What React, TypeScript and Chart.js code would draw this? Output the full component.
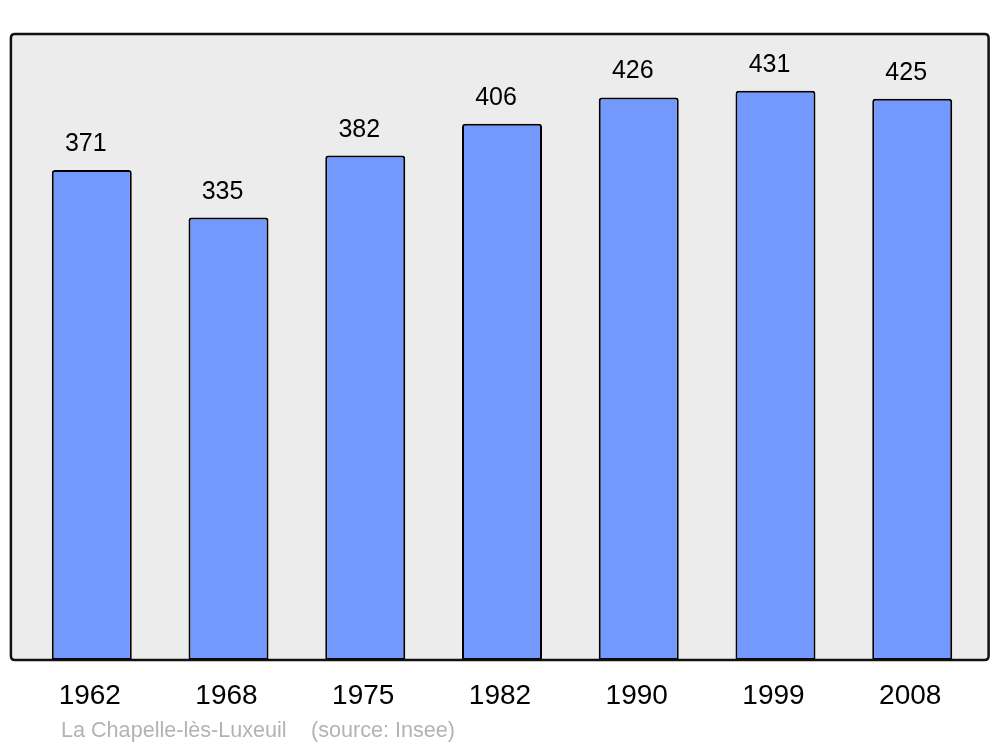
import React, { useEffect, useRef } from "react";
import { Chart, registerables } from "chart.js";

Chart.register(...registerables);

const years = ["1962", "1968", "1975", "1982", "1990", "1999", "2008"];
const population = [371, 335, 382, 406, 426, 431, 425];
const placeName = "La Chapelle-lès-Luxeuil";
const sourceText = "(source: Insee)";
const yMax = 474;

const FONT = "'Liberation Sans', Arial, sans-serif";

export default function App() {
  const ref = useRef<HTMLCanvasElement | null>(null);

  useEffect(() => {
    if (!ref.current) return;

    const roundRect = (ctx: CanvasRenderingContext2D, x: number, y: number, w: number, h: number, r: number) => {
      ctx.beginPath();
      ctx.moveTo(x + r, y);
      ctx.lineTo(x + w - r, y);
      ctx.quadraticCurveTo(x + w, y, x + w, y + r);
      ctx.lineTo(x + w, y + h - r);
      ctx.quadraticCurveTo(x + w, y + h, x + w - r, y + h);
      ctx.lineTo(x + r, y + h);
      ctx.quadraticCurveTo(x, y + h, x, y + h - r);
      ctx.lineTo(x, y + r);
      ctx.quadraticCurveTo(x, y, x + r, y);
      ctx.closePath();
    };

    const boxPlugin = {
      id: "boxPlugin",
      beforeDatasetsDraw(chart: any) {
        const { ctx, chartArea } = chart;
        const l = chartArea.left - 12.5;
        const r = chartArea.right + 8;
        ctx.save();
        roundRect(ctx, l, chartArea.top, r - l, chartArea.bottom - chartArea.top, 4);
        ctx.fillStyle = "#ececec";
        ctx.fill();
        ctx.restore();
      },
      afterDatasetsDraw(chart: any) {
        const { ctx, chartArea } = chart;
        const l = chartArea.left - 12.5;
        const r = chartArea.right + 8;
        ctx.save();
        roundRect(ctx, l, chartArea.top, r - l, chartArea.bottom - chartArea.top, 4);
        ctx.lineWidth = 2.5;
        ctx.strokeStyle = "#111";
        ctx.stroke();

        // value labels
        const meta = chart.getDatasetMeta(0);
        ctx.fillStyle = "#000";
        ctx.font = `25px ${FONT}`;
        ctx.textAlign = "center";
        ctx.textBaseline = "alphabetic";
        meta.data.forEach((bar: any, i: number) => {
          ctx.fillText(String(population[i]), bar.x - 6, bar.y - 19);
        });

        // source text
        ctx.fillStyle = "#b3b3b3";
        ctx.font = `21.6px ${FONT}`;
        ctx.textAlign = "left";
        ctx.fillText(placeName, 61, 737);
        ctx.fillText(sourceText, 311, 737);
        ctx.restore();
      },
    };

    const chart = new Chart(ref.current, {
      type: "bar",
      data: {
        labels: years,
        datasets: [
          {
            data: population,
            backgroundColor: "#7399ff",
            borderColor: "#000",
            borderWidth: 2,
            borderRadius: { topLeft: 3, topRight: 3, bottomLeft: 0, bottomRight: 0 },
            borderSkipped: false,
            categoryPercentage: 1,
            barPercentage: 0.585,
          },
        ],
      },
      options: {
        animation: false,
        responsive: false,
        maintainAspectRatio: false,
        layout: { padding: { left: 23.4, right: 19.4, top: 34, bottom: 0 } },
        plugins: {
          legend: { display: false },
          tooltip: { enabled: false },
          title: { display: false },
        },
        scales: {
          x: {
            grid: { display: false, drawTicks: false },
            border: { display: false },
            ticks: {
              color: "#000",
              font: { family: FONT, size: 28 },
              padding: 19,
              maxRotation: 0,
              labelOffset: -2,
            },
            afterFit: (axis: any) => {
              axis.height = 87;
            },
          },
          y: {
            display: false,
            min: 0,
            max: yMax,
          },
        },
      },
      plugins: [boxPlugin],
    });

    return () => chart.destroy();
  }, []);

  return (
    <div style={{ position: "fixed", left: 0, top: 0, width: 1000, height: 747, background: "#fff" }}>
      <canvas ref={ref} width={1000} height={747} style={{ width: 1000, height: 747, display: "block" }} />
    </div>
  );
}
